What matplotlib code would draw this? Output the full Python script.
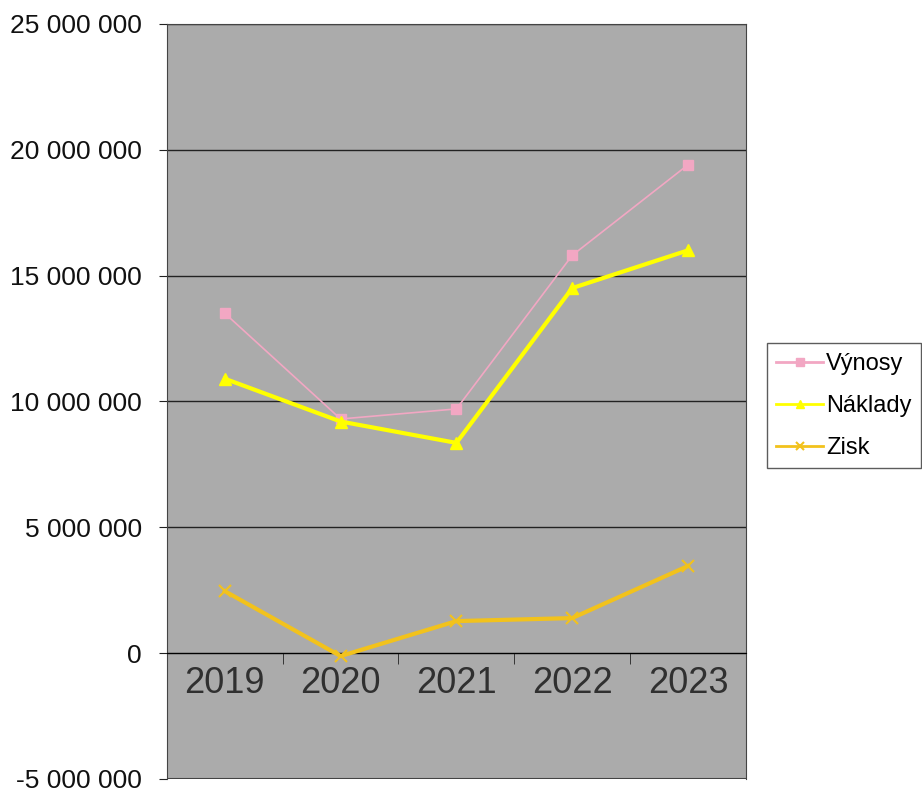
import matplotlib.pyplot as plt
import numpy as np
from matplotlib.ticker import FuncFormatter

plt.rcParams['font.family'] = ['Liberation Sans', 'DejaVu Sans']

years = ['2019', '2020', '2021', '2022', '2023']
vynosy = [13.5e6, 9.3e6, 9.7e6, 15.8e6, 19.4e6]
naklady = [10.9e6, 9.2e6, 8.35e6, 14.5e6, 16.0e6]
zisk = [2.46e6, -0.12e6, 1.27e6, 1.39e6, 3.46e6]

x = np.arange(len(years))

fig = plt.figure(figsize=(9.22, 7.94), dpi=100)
ax = fig.add_axes([0.181, 0.019, 0.628, 0.951])
ax.set_facecolor('#ababab')

ax.plot(x, vynosy, color='#f2a7c3', lw=1.2, marker='s', ms=7, label='Výnosy', zorder=3)
ax.plot(x, naklady, color='#ffff00', lw=3, marker='^', ms=8, label='Náklady', zorder=4)
ax.plot(x, zisk, color='#f2c21c', lw=3, marker='x', ms=8, mew=1.5, label='Zisk', zorder=4)

ax.set_xlim(-0.5, len(years) - 0.5)
ax.set_ylim(-5e6, 25e6)
ax.set_yticks(np.arange(-5e6, 25.1e6, 5e6))
ax.yaxis.set_major_formatter(FuncFormatter(lambda v, p: f'{int(v):,}'.replace(',', ' ')))
ax.tick_params(axis='y', labelsize=19, length=6, pad=12, colors='#222222', labelcolor='#111111')
for y in np.arange(0, 25.1e6, 5e6):
    ax.axhline(y, color='#222222', lw=1, zorder=1)
# bottom edge of the plot area
ax.axhline(-5e6, color='#444444', lw=1.5, zorder=1)

# category axis sits on the zero line, labels drawn inside the plot
ax.spines['bottom'].set_position(('data', 0))
ax.set_xticks([])
ax.set_xticks(np.arange(-0.5, len(years), 1), minor=True)
ax.tick_params(axis='x', which='minor', length=8, direction='out', color='#222222')
for i, yr in enumerate(years):
    ax.text(i, -1.2e6, yr, ha='center', va='center', fontsize=26, color='#303030')

for s in ['left', 'right', 'top']:
    ax.spines[s].set_color('#444444')

leg = ax.legend(loc='center left', bbox_to_anchor=(1.036, 0.494), fontsize=17,
                frameon=True, fancybox=False, edgecolor='#333333', markerscale=0.8,
                handlelength=2.0, handletextpad=0.1, borderpad=0.4, labelspacing=0.85,
                borderaxespad=0)
for h in leg.get_lines():
    h.set_linewidth(2)

plt.savefig('out.png', dpi=100)
